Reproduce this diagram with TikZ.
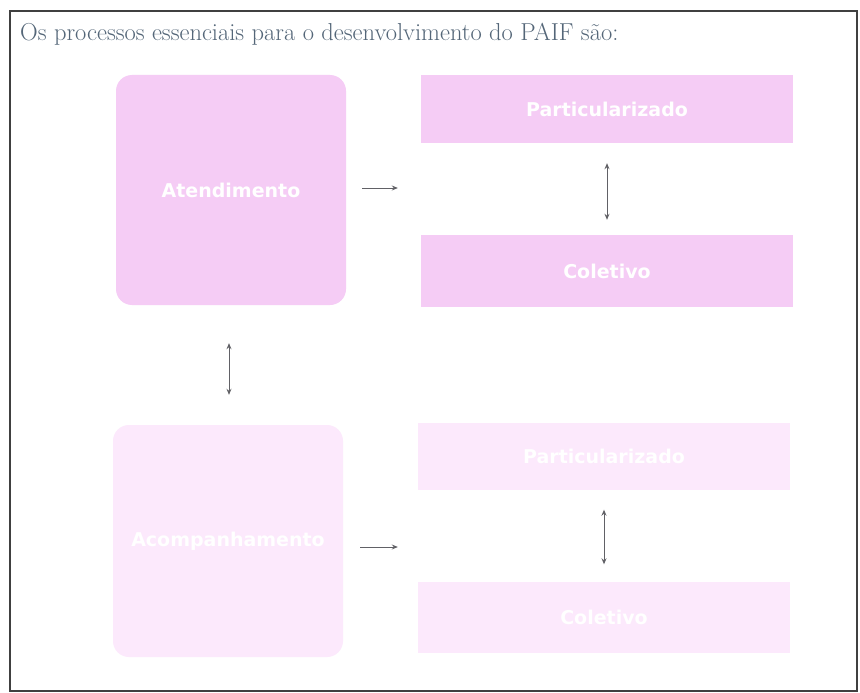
\documentclass[tikz,border=0pt]{standalone}
\usepackage{fontspec}
\usepackage{tikz}
\usetikzlibrary{arrows.meta}
\usetikzlibrary{calc}
\newfontfamily\boxfont{DejaVu Sans}
\definecolor{orchidpale}{rgb}{0.96, 0.80, 0.96}
\definecolor{orchidfaint}{rgb}{0.988, 0.915, 0.988}
\definecolor{slatetitle}{rgb}{0.33, 0.40, 0.47}
\definecolor{arrowgrey}{rgb}{0.38, 0.38, 0.40}
\tikzset{
	procbox/.style={minimum width=230pt, minimum height=230pt, rounded corners=16pt, inner sep=0pt,
		font=\boxfont\bfseries\fontsize{19}{22}\selectfont, text=white},
	kindbox/.style={minimum width=372pt, inner sep=0pt,
		font=\boxfont\bfseries\fontsize{19}{22}\selectfont, text=white},
	flow/.style={arrowgrey, line width=1pt, -{Stealth[length=6pt,width=5pt]}},
	twoway/.style={arrowgrey, line width=1pt, {Stealth[length=6pt,width=5pt]}-{Stealth[length=6pt,width=5pt]}}
}

\begin{document}
\begin{tikzpicture}[x=1pt, y=-1pt]
							\useasboundingbox (0,0) rectangle (860,693);
							\fill[white] (0,0) rectangle (860,693);
							\draw[line width=1.6pt, black!75] (10,11) rectangle (857,691);

							\node[anchor=base west, text=slatetitle, inner sep=0pt, font=\fontsize{24.5}{28}\selectfont] (title) at (20,41)
								{Os processos essenciais para o desenvolvimento do PAIF são:};

							% upper group
							\node[procbox, fill=orchidpale] (aten) at (231,190) {Atendimento};
							\node[kindbox, fill=orchidpale, minimum height=68pt] (part) at (607,109) {Particularizado};
							\node[kindbox, fill=orchidpale, minimum height=72pt] (colet) at (607,271) {Coletivo};

							% lower group
							\node[procbox, fill=orchidfaint, minimum height=232pt] (acomp) at (228,541) {Acompanhamento};
							\node[kindbox, fill=orchidfaint, minimum height=67pt] (partb) at (604,456) {Particularizado};
							\node[kindbox, fill=orchidfaint, minimum height=71pt] (coletb) at (604,617) {Coletivo};

							\draw[flow] ([xshift=16pt,yshift=2pt]aten.east) -- ([xshift=-23pt,yshift=2pt]part.west |- aten.east);
							\draw[flow] ([xshift=17pt,yshift=-6pt]acomp.east) -- ([xshift=-20pt,yshift=-6pt]partb.west |- acomp.east);

							\draw[twoway, shorten <=20pt, shorten >=15pt] (part.south) -- (colet.north);
							\draw[twoway, shorten <=20pt, shorten >=17pt] (partb.south) -- (coletb.north);
							\draw[twoway, shorten <=38pt, shorten >=30pt] ([xshift=-2pt]aten.south) -- ([xshift=1pt]acomp.north);
						\end{tikzpicture}
\end{document}
